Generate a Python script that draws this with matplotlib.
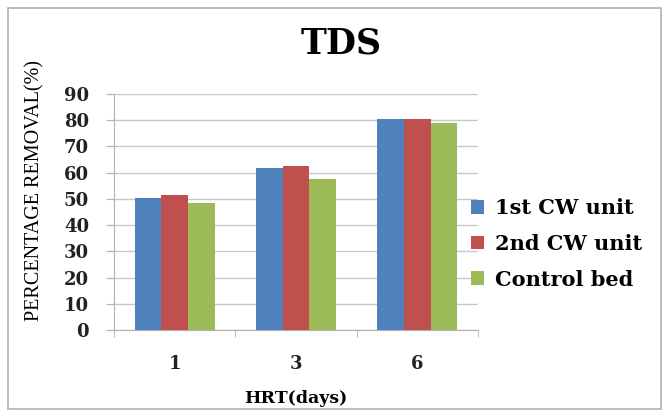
import matplotlib.pyplot as plt
import numpy as np
from matplotlib.patches import Rectangle

# data
hrt_days = ['1', '3', '6']
first_cw = [50.5, 61.6, 80.3]
second_cw = [51.5, 62.5, 80.4]
control_bed = [48.3, 57.4, 78.8]
series_names = ['1st CW unit', '2nd CW unit', 'Control bed']
colors = ['#4F81BD', '#C0504D', '#9BBB59']

fig = plt.figure(figsize=(6.69, 4.19), dpi=100)
# chart border
fig.patches.append(Rectangle((8/669, 10/419), 653/669, 401/419, transform=fig.transFigure,
                             fill=False, edgecolor='#b0b0b0', linewidth=1.2))

ax = fig.add_axes([114/669, 1-330/419, 364/669, 236/419])

x = np.arange(len(hrt_days))
w = 0.22
for i, (vals, name) in enumerate(zip([first_cw, second_cw, control_bed], series_names)):
    ax.bar(x + (i-1)*w, vals, width=w, color=colors[i], label=name, zorder=3)

ax.set_xlim(-0.5, 2.5)
ax.set_ylim(0, 90)
ax.set_yticks(range(0, 91, 10))
ax.yaxis.grid(True, color='#c8c8c8', linewidth=1, zorder=0)
ax.set_xticks(x)
ax.set_xticklabels(hrt_days)
ax.set_xticks([-0.5, 0.5, 1.5, 2.5], minor=True)
ax.tick_params(axis='x', which='major', length=0, pad=18)
ax.tick_params(axis='x', which='minor', length=5, color='#b0b0b0')
ax.tick_params(axis='y', length=6, color='#b0b0b0', pad=12)

for s in ['top', 'right']:
    ax.spines[s].set_visible(False)
ax.spines['left'].set_color('#b0b0b0')
ax.spines['bottom'].set_color('#b0b0b0')

for lab in ax.get_xticklabels() + ax.get_yticklabels():
    lab.set_fontfamily('DejaVu Serif')
    lab.set_fontweight('bold')
    lab.set_fontsize(13)
    lab.set_color('#222222')

ax.set_xlabel('HRT(days)', family='DejaVu Serif', weight='bold', fontsize=12.5, labelpad=12)
ax.set_ylabel('PERCENTAGE REMOVAL(%)', family='Liberation Serif', fontsize=14.5)
ax.yaxis.set_label_coords(-0.19, 0.593)
fig.text(341/669, 1-43/419, 'TDS', family='DejaVu Serif', weight='bold', fontsize=25,
         ha='center', va='center')

ax.legend(loc='center left', bbox_to_anchor=(0.94, 0.365), frameon=False,
          prop={'family': 'DejaVu Serif', 'weight': 'bold', 'size': 15},
          handlelength=0.65, handleheight=0.65, handletextpad=0.5, labelspacing=0.76,
          borderaxespad=0.3)

fig.savefig('out.png', dpi=100)
